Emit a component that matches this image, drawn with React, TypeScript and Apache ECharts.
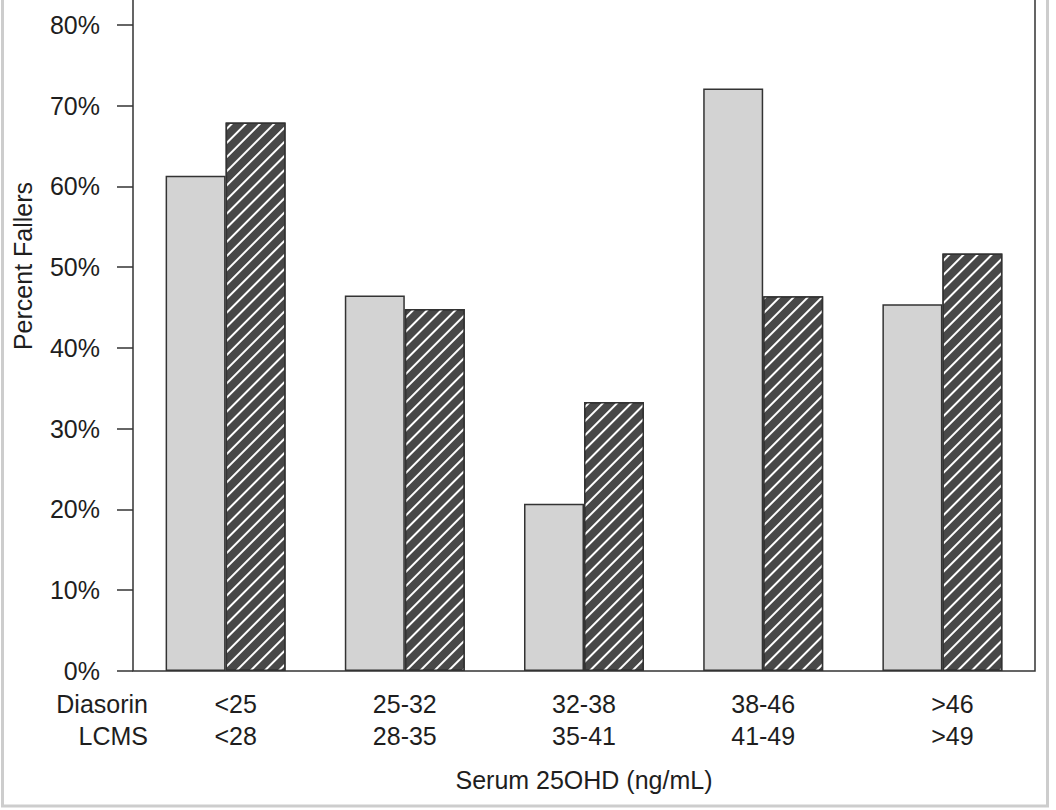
import React, { useEffect, useRef } from 'react'
import * as echarts from 'echarts'

const CATEGORIES_DIASORIN = ['<25', '25-32', '32-38', '38-46', '>46']
const CATEGORIES_LCMS = ['<28', '28-35', '35-41', '41-49', '>49']
const DIASORIN_VALUES = [61.3, 46.5, 20.7, 72.1, 45.4]
const LCMS_VALUES = [67.9, 44.8, 33.3, 46.4, 51.7]
const ROW_LABELS = ['Diasorin', 'LCMS']
const Y_TICKS = { min: 0, max: 90, interval: 10 }

const FONT = "'Liberation Sans', Arial, Helvetica, sans-serif"
const TEXT_COLOR = '#1e1e1e'
const LINE_COLOR = '#333333'
// the chart div is shifted up so that the plot runs off the top of the picture
const SHIFT = 56

export default function App() {
  const chartRef = useRef<HTMLDivElement>(null)

  useEffect(() => {
    if (!chartRef.current) return
    const chart = echarts.init(chartRef.current, null, { renderer: 'svg' })

    const labels = CATEGORIES_DIASORIN.map((d, i) => `${d}\n${CATEGORIES_LCMS[i]}`)
    const edge = (s: string) => s.startsWith('<') || s.startsWith('>')

    const option: any = {
      animation: false,
      backgroundColor: '#ffffff',
      grid: { left: 136, right: 24, top: 0, bottom: 139, outerBoundsMode: 'none', containLabel: false },
      xAxis: {
        type: 'category',
        data: labels,
        axisLine: { show: false },
        axisTick: { show: false },
        axisLabel: {
          margin: 17,
          color: TEXT_COLOR,
          fontFamily: FONT,
          fontSize: 25,
          lineHeight: 32,
          formatter: (value: string) => {
            const tag = edge(value) ? 'o' : 'n'
            return value.split('\n').map(v => `{${tag}|${v}}`).join('\n')
          },
          rich: {
            n: { fontFamily: FONT, fontSize: 25, lineHeight: 32, color: TEXT_COLOR },
            o: { fontFamily: FONT, fontSize: 25, lineHeight: 32, color: TEXT_COLOR, padding: [0, 0, 0, 20] }
          }
        },
        name: 'Serum 25OHD (ng/mL)',
        nameLocation: 'middle',
        nameGap: 96,
        nameTextStyle: { color: TEXT_COLOR, fontFamily: FONT, fontSize: 25 }
      },
      yAxis: {
        type: 'value',
        min: Y_TICKS.min,
        max: Y_TICKS.max,
        interval: Y_TICKS.interval,
        offset: 3,
        axisLine: { show: false },
        axisTick: { show: true, length: 16, lineStyle: { color: LINE_COLOR, width: 1.5 } },
        splitLine: { show: false },
        axisLabel: {
          margin: 33,
          color: TEXT_COLOR,
          fontFamily: FONT,
          fontSize: 25,
          showMaxLabel: false,
          formatter: '{value}%'
        }
      },
      series: [
        {
          name: ROW_LABELS[0],
          type: 'bar',
          data: DIASORIN_VALUES,
          barWidth: 60,
          barGap: '0%',
          itemStyle: { color: '#d3d3d3', borderColor: LINE_COLOR, borderWidth: 1.5 }
        },
        {
          name: ROW_LABELS[1],
          type: 'bar',
          data: LCMS_VALUES,
          barWidth: 60,
          barGap: '0%',
          itemStyle: {
            color: '#484848',
            borderColor: LINE_COLOR,
            borderWidth: 1.5,
            decal: {
              symbol: 'rect',
              symbolSize: 1,
              color: '#ffffff',
              dashArrayX: [1, 0],
              dashArrayY: [2, 8],
              rotation: -Math.PI / 4
            }
          }
        }
      ],
      graphic: [
        {
          type: 'rect',
          shape: { x: 2.5, y: 20, width: 1045, height: 862 - 20 },
          style: { fill: 'none', stroke: '#cdcdcd', lineWidth: 3 },
          silent: true
        },
        {
          type: 'rect',
          shape: { x: 133, y: 20, width: 902, height: 727 - 20 },
          style: { fill: 'none', stroke: LINE_COLOR, lineWidth: 1.5 },
          z: 10,
          silent: true
        },
        {
          type: 'text',
          x: 23,
          y: 266 + SHIFT,
          rotation: Math.PI / 2,
          style: {
            text: 'Percent Fallers',
            fill: TEXT_COLOR,
            font: `25px ${FONT}`,
            textAlign: 'center',
            textVerticalAlign: 'middle'
          }
        },
        {
          type: 'text',
          x: 148,
          y: 704 + SHIFT,
          style: {
            text: ROW_LABELS[0],
            fill: TEXT_COLOR,
            font: `25px ${FONT}`,
            textAlign: 'right',
            textVerticalAlign: 'middle'
          }
        },
        {
          type: 'text',
          x: 148,
          y: 736 + SHIFT,
          style: {
            text: ROW_LABELS[1],
            fill: TEXT_COLOR,
            font: `25px ${FONT}`,
            textAlign: 'right',
            textVerticalAlign: 'middle'
          }
        }
      ]
    }

    chart.setOption(option, true)
    return () => chart.dispose()
  }, [])

  return (
    <div style={{ position: 'fixed', left: 0, top: 0, width: 1056, height: 810, overflow: 'hidden', background: '#fff' }}>
      <div ref={chartRef} style={{ position: 'absolute', left: 0, top: -SHIFT, width: 1056, height: 810 + SHIFT }} />
    </div>
  )
}
